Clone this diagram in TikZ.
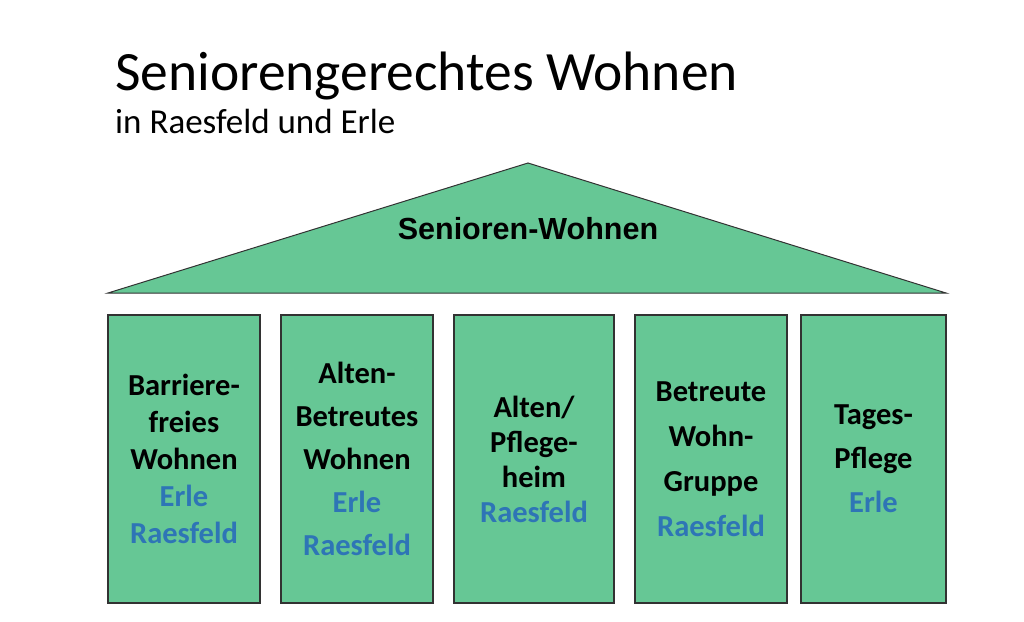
\documentclass[tikz,border=0pt]{standalone}
\usepackage{fontspec}
\setmainfont{Carlito}
\newfontfamily\roofsans{Liberation Sans}
\usepackage{xcolor}
\usetikzlibrary{positioning}

\definecolor{housegreen}{RGB}{102,199,149}
\definecolor{placeblue}{RGB}{46,117,182}
\definecolor{edgegray}{RGB}{50,50,50}

\tikzset{
    pillar/.style={draw=edgegray, line width=1.3pt, fill=housegreen,
        minimum height=288pt, align=center, inner sep=0pt, outer sep=0pt,
        font=\bfseries\fontsize{30.5}{#1}\selectfont},
    pillar/.default=37
}
\newcommand{\ort}[1]{\textcolor{placeblue}{#1}}

\begin{document}
\begin{tikzpicture}[x=1pt, y=-1pt]
        \useasboundingbox (0,0) rectangle (1024,621);

        % Titel
        \node[anchor=base west, inner sep=0pt, font=\fontsize{55.5}{60}\selectfont] (title) at (115,90) {Seniorengerechtes Wohnen};
        \node[anchor=base west, inner sep=0pt, font=\fontsize{35}{40}\selectfont] (subtitle) at (115,133) {in Raesfeld und Erle};

        % Dach
        \coordinate (roofL) at (108,293);
        \coordinate (roofR) at (946,293);
        \coordinate (roofT) at (528,163);
        \draw[draw=edgegray, line width=1pt, fill=housegreen] (roofL) -- (roofT) -- (roofR) -- cycle;
        \node[font=\roofsans\bfseries\fontsize{30.5}{34}\selectfont] (roof) at (528,229) {Senioren-Wohnen};

        % Saeulen
        \node[pillar=37, minimum width=152pt, anchor=north west] (p1) at (108,315) {Barriere-\\freies\\Wohnen\\\ort{Erle}\\\ort{Raesfeld}};
        \node[pillar=43, minimum width=152pt] (p2) [right=21pt of p1] {Alten-\\Betreutes\\Wohnen\\\ort{Erle}\\\ort{Raesfeld}};
        \node[pillar=35, minimum width=160pt] (p3) [right=21pt of p2] {Alten/\\Pflege-\\heim\\\ort{Raesfeld}};
        \node[pillar=45, minimum width=152pt] (p4) [right=21pt of p3] {Betreute\\Wohn-\\Gruppe\\\ort{Raesfeld}};
        \node[pillar=44, minimum width=145pt] (p5) [right=14pt of p4] {Tages-\\Pflege\\\ort{Erle}};

    \end{tikzpicture}
\end{document}
